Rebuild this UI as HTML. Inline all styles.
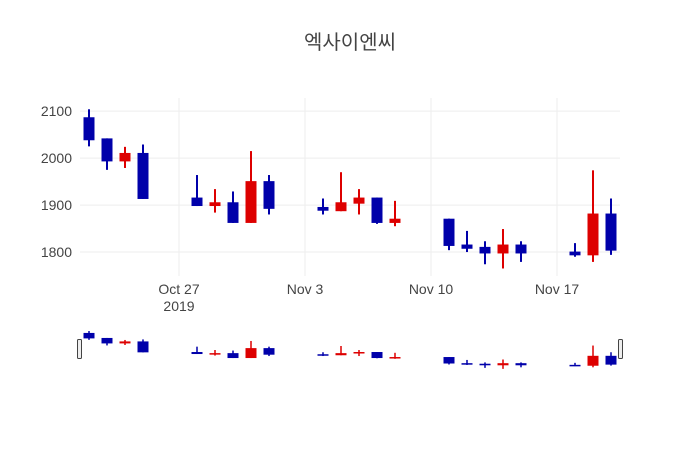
<!DOCTYPE html>
<html><head><meta charset="utf-8">
<style>
body{margin:0;background:#fff;}
svg text{font-family:"Liberation Sans","Noto Sans CJK KR",sans-serif;}
</style></head>
<body>
<svg id="chart" width="700" height="450" xmlns="http://www.w3.org/2000/svg">
<rect width="700" height="450" fill="#fff"/>
<text x="350" y="49" text-anchor="middle" font-size="20" fill="#444">엑사이엔씨</text>
<g id="grid"></g><g id="main"></g><g id="xticks"></g><g id="yticks"></g><g id="slider"></g>
</svg>
<script>
const dates=["2019-10-22","2019-10-23","2019-10-24","2019-10-25","2019-10-28","2019-10-29","2019-10-30","2019-10-31","2019-11-01","2019-11-04","2019-11-05","2019-11-06","2019-11-07","2019-11-08","2019-11-11","2019-11-12","2019-11-13","2019-11-14","2019-11-15","2019-11-18","2019-11-19","2019-11-20"];
const openV=[2087,2042,1993,2011,1916,1898,1906,1862,1951,1896,1887,1903,1916,1862,1871,1816,1811,1797,1816,1801,1793,1882];
const highV=[2104,2042,2024,2029,1964,1934,1929,2015,1964,1914,1970,1934,1916,1909,1871,1845,1823,1849,1823,1819,1974,1914];
const lowV=[2025,1975,1979,1913,1898,1884,1862,1862,1880,1880,1887,1880,1860,1855,1804,1800,1774,1765,1779,1790,1779,1794];
const closeV=[2038,1993,2011,1913,1898,1906,1862,1951,1892,1888,1906,1916,1862,1871,1813,1807,1797,1816,1797,1793,1882,1803];
const yTicks=[1800,1900,2000,2100];
const xTickDates=["2019-10-27","2019-11-03","2019-11-10","2019-11-17"];
const xTickLabels=["Oct 27","Nov 3","Nov 10","Nov 17"];
const NS="http://www.w3.org/2000/svg";
const L=80,R=620,T=98,B=276;
const x0=Date.UTC(2019,9,21,12),x1=Date.UTC(2019,10,20,12);
function tms(s){const p=s.split("-");return Date.UTC(+p[0],+p[1]-1,+p[2]);}
function xs(s){return L+(tms(s)-x0)/(x1-x0)*(R-L);}
const yMin=1749,yMax=2128;
function ys(v){return B-(v-yMin)/(yMax-yMin)*(B-T);}
const sT=330.7,sB=369.2,sMin=Math.min(...lowV)-3,sMax=Math.max(...highV)+3;
function yss(v){return sB-(v-sMin)/(sMax-sMin)*(sB-sT);}
function mk(tag,attrs,parent){const e=document.createElementNS(NS,tag);for(const k in attrs)e.setAttribute(k,attrs[k]);document.getElementById(parent).appendChild(e);return e;}
yTicks.forEach(v=>{
  const l=mk("line",{x1:L,x2:R,y1:ys(v),y2:ys(v),stroke:"#eee","stroke-width":1},"grid");
  
  
  const t=mk("text",{x:L-8,y:ys(v)+5,"text-anchor":"end","font-size":14,fill:"#444"},"yticks");
  t.textContent=v;
  
  
});
xTickDates.forEach((d,i)=>{
  const x=xs(d);
  const l=mk("line",{x1:x,x2:x,y1:T,y2:B,stroke:"#eee","stroke-width":1},"grid");
  
  
  const t=mk("text",{x:x,y:294,"text-anchor":"middle","font-size":14,fill:"#444"},"xticks");
  t.textContent=xTickLabels[i];
  
  
  if(i===0){const t2=mk("text",{x:x,y:311,"text-anchor":"middle","font-size":14,fill:"#444"},"xticks");t2.textContent="2019";
  
  }
});
const bw=11;
function candles(parent,yf,wick){
  dates.forEach((d,i)=>{
    const x=xs(d),up=closeV[i]>openV[i],c=up?"#dd0000":"#0000aa";
    const g=mk("g",{},parent);
    
    
    const w=document.createElementNS(NS,"line");
    w.setAttribute("x1",x);w.setAttribute("x2",x);w.setAttribute("y1",yf(highV[i]));w.setAttribute("y2",yf(lowV[i]));w.setAttribute("stroke",c);w.setAttribute("stroke-width",wick);
    g.appendChild(w);
    const top=yf(Math.max(openV[i],closeV[i])),bot=yf(Math.min(openV[i],closeV[i]));
    const r=document.createElementNS(NS,"rect");
    r.setAttribute("x",x-bw/2);r.setAttribute("width",bw);r.setAttribute("y",top);r.setAttribute("height",Math.max(bot-top,1.5));r.setAttribute("fill",c);
    g.appendChild(r);
  });
}
candles("main",ys,2);
candles("slider",yss,1.5);
const h1=mk("rect",{x:77.5,y:339.5,width:4,height:19,fill:"#eee",stroke:"#444","stroke-width":1,rx:1},"slider");


const h2=mk("rect",{x:618.5,y:339.5,width:4,height:19,fill:"#eee",stroke:"#444","stroke-width":1,rx:1},"slider");


</script>
</body></html>
